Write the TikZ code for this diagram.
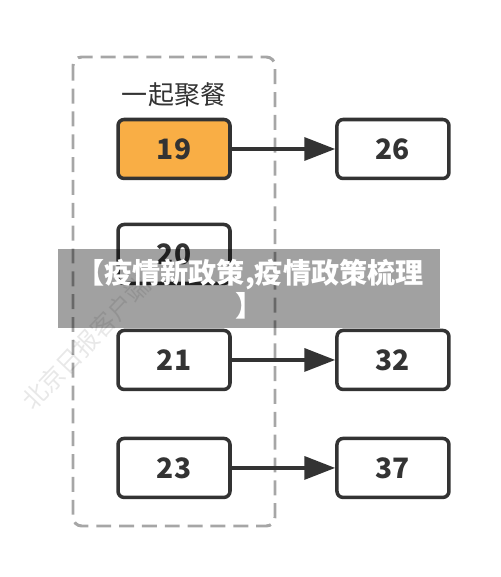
\documentclass[tikz,border=0pt]{standalone}
\usepackage{fontspec}
\setmainfont{Noto Sans CJK SC}
\usepackage{tikz}
\usetikzlibrary{arrows.meta}
\definecolor{boxline}{HTML}{333333}
\definecolor{pickfill}{HTML}{F9AE45}
\definecolor{frameline}{HTML}{A6A6A6}
\tikzstyle{numbox} = [rectangle, draw=boxline, fill=white, line width=2pt,
    rounded corners=3.5pt, minimum width=2.24cm, minimum height=1.18cm,
    font=\fontsize{16}{18}\selectfont\bfseries, text=boxline]
\tikzstyle{pickbox} = [numbox, fill=pickfill]
\tikzstyle{arrow} = [draw=boxline, line width=2pt, -{Triangle[length=17.5pt,width=13pt]}]
\tikzstyle{frame} = [draw=frameline, line width=1.7pt, dash pattern=on 8.5pt off 4.5pt,
    rounded corners=5pt]

\begin{document}
\begin{tikzpicture}[x=0.02cm, y=-0.02cm, node distance=2.1cm]
			\useasboundingbox (0,0) rectangle (500,577);
			% group frame
			\path [frame] (73,57) rectangle (275,526);
			% Place nodes
			\node [pickbox] at (174,149) (n19) {19};
			\node [numbox, below of=n19, node distance=2.1cm] (n20) {20};
			\node [numbox, below of=n20, node distance=2.12cm] (n21) {21};
			\node [numbox, below of=n21, node distance=2.16cm] (n23) {23};
			\node [numbox, right of=n19, node distance=4.38cm] (n26) {26};
			\node [numbox, right of=n21, node distance=4.38cm] (n32) {32};
			\node [numbox, right of=n23, node distance=4.38cm] (n37) {37};
			\node [above of=n19, node distance=1.08cm, font=\fontsize{14.8}{16}\selectfont, text=boxline] (title) {一起聚餐};
			\path [arrow] (n19) -- (n26);
			\path [arrow] (n21) -- (n32);
			\path [arrow] (n23) -- (n37);
			% watermark
			\node [rotate=46.5, text=black, opacity=0.09, font=\fontsize{14}{15}\selectfont] at (86,343) (mark) {北京日报客户端};
			% banner
			\fill [black, fill opacity=0.37] (58,249) rectangle (440,328);
			\node [text=white, font=\fontsize{16}{19}\selectfont\bfseries, align=center] at (250,289) (banner) {【疫情新政策,疫情政策梳理\\】};
	\end{tikzpicture}
\end{document}
